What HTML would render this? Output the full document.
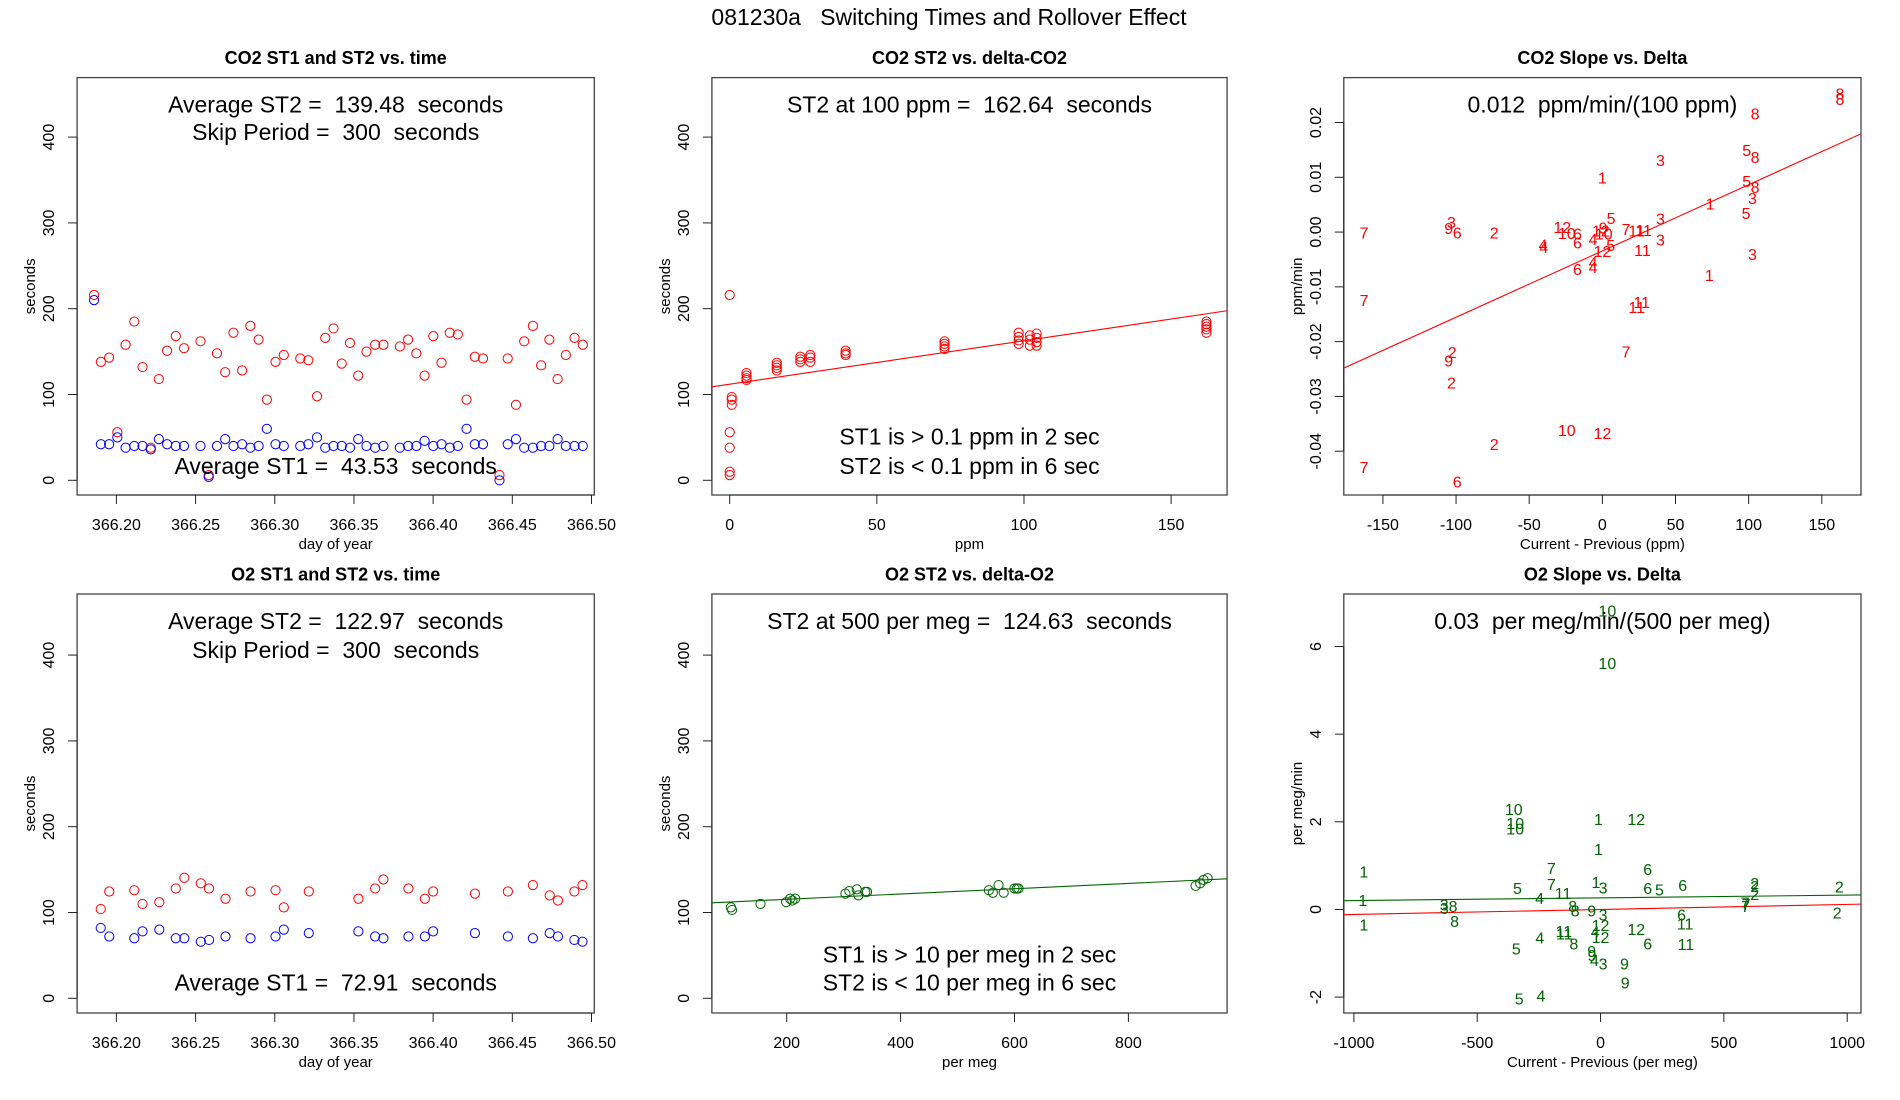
<!DOCTYPE html>
<html><head><meta charset="utf-8"><title>081230a Switching Times and Rollover Effect</title>
<style>
html,body{margin:0;padding:0;background:#fff;}
svg{display:block;font-family:"Liberation Sans",Arial,sans-serif;}
text{white-space:pre;}
</style></head>
<body>
<svg id="chart" width="1900" height="1100" viewBox="0 0 1900 1100" xmlns="http://www.w3.org/2000/svg">
<rect x="0" y="0" width="1900" height="1100" fill="#fff"/>
<text x="949" y="25" font-size="23" text-anchor="middle" xml:space="preserve">081230a   Switching Times and Rollover Effect</text>
</svg>
<script>
// ---- Panel 1: CO2 ST1/ST2 vs time ----
const co2Time = [366.1859,366.1902,366.1954,366.2006,366.2058,366.2113,366.2165,366.2217,366.2268,366.2320,366.2375,366.2427,366.2531,366.2583,366.2635,366.2687,366.2739,366.2794,366.2846,366.2898,366.2950,366.3005,366.3057,366.3161,366.3212,366.3267,366.3319,366.3371,366.3423,366.3475,366.3527,366.3579,366.3634,366.3686,366.3790,366.3842,366.3894,366.3946,366.4001,366.4053,366.4105,366.4156,366.4211,366.4263,366.4315,366.4419,366.4471,366.4523,366.4575,366.4630,366.4682,366.4734,366.4786,366.4838,366.4893,366.4945];
const co2ST2 = [216,138,143,56,158,185,132,38,118,151,168,154,162,6,148,126,172,128,180,164,94,138,146,142,140,98,166,177,136,160,122,150,158,158,156,164,148,122,168,137,172,170,94,144,142,6,142,88,162,180,134,164,118,146,166,158];
const co2ST1 = [210,42,42,50,38,40,40,36,48,42,40,40,40,4,40,48,40,42,38,40,60,42,40,40,42,50,38,40,40,38,48,40,38,40,38,40,40,46,40,42,38,40,60,42,42,0,42,48,38,38,40,40,48,40,40,40];
// ---- Panel 4: O2 ST1/ST2 vs time ----
const o2Time = [366.1901,366.1955,366.2113,366.2165,366.2271,366.2375,366.2429,366.2533,366.2585,366.2689,366.2847,366.3005,366.3057,366.3215,366.3528,366.3634,366.3686,366.3844,366.3948,366.4000,366.4264,366.4472,366.4630,366.4736,366.4788,366.4892,366.4943];
const o2ST2 = [104,124.5,126,110,112,128,140.5,134,128,116,124.5,126,106,124.5,116,128,138.5,128,116,124.5,122,124.5,132,120,114,124.5,132];
const o2ST1 = [82,72,70,78,80,70,70,66,68,72,70,72,80,76,78,72,70,72,72,78,76,72,70,76,72,68,66];
// ---- Panel 2: CO2 ST2 vs delta ----
const co2Delta = [0,0.7,0.7,0.7,0,0,0,0, 5.7,5.7,5.7,5.7, 16,16,16,16, 24,24,24, 27.4,27.4,27.4, 39.4,39.4,39.4, 73,73,73,73, 98.2,98.2,98.2,98.2, 102,102,102, 104.3,104.3,104.3,104.3, 162,162,162,162,162];
const co2DeltaST2 = [216,97,94,88,56,38,10,6, 125,122,119,117, 137,134,131,128, 144,141,138, 146,143,138, 151,148,146, 162,159,156,153, 172,167,163,159, 169,164,157, 171,166,161,157, 185,182,179,176,172];
const co2Fit = [112.0, 0.5064]; // intercept, slope
// ---- Panel 5: O2 ST2 vs delta ----
const o2Delta = [102,104,154,199,206,210,215,303,310,323,326,338,341,555,562,572,581,600,604,607,918,926,932,939];
const o2DeltaST2 = [106,103,110,112,116,114,116,122,125,127,120,124,124,126,123,132,123,128,128,128,131,134,138,140];
const o2Fit = [109.2, 0.03087];
// ---- Panel 3: CO2 slope vs delta ----
const co2SlopeDelta = [162.4,162.4,104.4,98.7,104.4,39.7,0,98.7,104.4,102.6,73.6,98.2,6,39.7,-103.1,-105,-99.2,-162.9,-73.9,-27.4,-24.3,-17,-1,1,0.5,16.2,23.5,28.2,-40.5,-40,-17,-6.3,5.7,39.7,0,27.4,102.6,-6.3,-6.3,-17,73.1,26.9,23.5,-162.9,16.2,-102.6,-105,-103.1,-24.3,0,-73.9,-162.9,-99.2];
const co2SlopeVal = [0.0253,0.0243,0.0216,0.0150,0.0137,0.0132,0.0100,0.0093,0.0082,0.0062,0.0052,0.0035,0.0026,0.0025,0.0018,0.0007,-0.0001,-0.0001,-0.0001,0.0009,-0.0002,-0.0003,0.0003,-0.0003,0.0008,0.0006,0.0003,0.0004,-0.0023,-0.0027,-0.0019,-0.0013,-0.0024,-0.0014,-0.0035,-0.0033,-0.0040,-0.0055,-0.0064,-0.0067,-0.0078,-0.0128,-0.0137,-0.0124,-0.0218,-0.0219,-0.0234,-0.0275,-0.0361,-0.0367,-0.0387,-0.0429,-0.0455];
const co2SlopeLabel = ["8","8","8","5","8","3","1","5","8","3","1","5","5","3","3","9","6","7","2","12","10","6","12","10","9","7","11","11","4","4","6","4","5","3","12","11","3","4","4","6","1","11","11","7","7","2","9","2","10","12","2","7","6"];
const co2SlopeFit = [-0.00345, 0.00012095];
// ---- Panel 6: O2 slope vs delta ----
const o2SlopeDelta = [27.5,27.5,-351.7,-346,-346,-8.7,144.7,-8.7,-959.5,-199.7,191,-199.7,-18.8,10,-337,-152,191,239,333,625,625,625,968,-964,-247,-634,-634,-597.7,586,590,588,-113,-103,-36,10,959.5,328.5,-592,-959.5,343,-149,-147,0,-21.7,0,144.7,-246,191,346,-108.5,-341.5,-36,-35,-24.6,10,97,100,-241.7,-330];
const o2SlopeVal = [6.82,5.62,2.29,1.97,1.85,2.06,2.06,1.38,0.87,0.95,0.92,0.58,0.63,0.5,0.49,0.37,0.49,0.46,0.56,0.6,0.53,0.35,0.52,0.21,0.26,0.11,0.03,0.08,0.16,0.12,0.08,0.08,-0.02,-0.02,-0.11,-0.07,-0.11,-0.26,-0.34,-0.32,-0.49,-0.55,-0.35,-0.5,-0.63,-0.45,-0.64,-0.78,-0.79,-0.78,-0.89,-0.95,-1.04,-1.15,-1.23,-1.23,-1.67,-1.96,-2.03];
const o2SlopeLabel = ["10","10","10","10","10","1","12","1","1","7","6","7","1","3","5","11","6","5","6","2","2","2","2","1","4","3","3","8","7","7","7","8","8","9","3","2","6","8","1","11","11","11","12","4","12","12","4","6","11","8","5","9","9","4","3","9","9","4","5"];
const o2SlopeFitGreen = [0.265, 0.000062];
const o2SlopeFitRed = [0.0, 0.000115];

const svg = document.getElementById('chart');
const NS = 'http://www.w3.org/2000/svg';
function mk(tag, attrs, parent) {
  const e = document.createElementNS(NS, tag);
  for (const k in attrs) e.setAttribute(k, attrs[k]);
  (parent || svg).appendChild(e);
  return e;
}
function lin(d0, d1, p0, p1) {
  const f = v => p0 + (v - d0) * (p1 - p0) / (d1 - d0);
  f.inv = p => d0 + (p - p0) * (d1 - d0) / (p1 - p0);
  return f;
}
const cols = [[77.1,594.3],[711.9,1227.1],[1343.8,1861]];
const rows = [[77.6,495],[594,1013]];
const TXT = '#000';

function panel(id, col, row, title, xs, ys, xTicks, yTicks, xTitle, yTitle, yFmt) {
  const L = cols[col][0], R = cols[col][1], T = rows[row][0], B = rows[row][1];
  const g = mk('g', {});
  
  
  const t = mk('text', {x:(L+R)/2, y: T - 13.5, 'font-size':18, 'font-weight':'bold', 'text-anchor':'middle', fill:TXT}, g);
  t.textContent = title;
  
  
  const box = mk('rect', {x:L, y:T, width:R-L, height:B-T, fill:'none', stroke:'#444', 'stroke-width':1.3}, g);
  
  
  const cp = mk('clipPath', {id: id + '-clip'}, g);
  mk('rect', {x:L, y:T, width:R-L, height:B-T}, cp);
  const xa = mk('g', {}, g);
  
  
  const xp = xTicks.map(xs);
  mk('line', {x1:xp[0], x2:xp[xp.length-1], y1:B, y2:B, stroke:'#222', 'stroke-width':1}, xa);
  xTicks.forEach((v, i) => {
    mk('line', {x1:xp[i], x2:xp[i], y1:B, y2:B+9, stroke:'#222', 'stroke-width':1}, xa);
    const lb = mk('text', {x:xp[i], y:B+35, 'font-size':16, 'text-anchor':'middle', fill:TXT}, xa);
    lb.textContent = String(v);
    
    
  });
  const xt = mk('text', {x:(L+R)/2, y:B+54, 'font-size':15, 'text-anchor':'middle', fill:TXT}, xa);
  xt.textContent = xTitle;
  
  
  const ya = mk('g', {}, g);
  
  
  const yp = yTicks.map(ys);
  mk('line', {x1:L, x2:L, y1:yp[0], y2:yp[yp.length-1], stroke:'#222', 'stroke-width':1}, ya);
  yTicks.forEach((v, i) => {
    mk('line', {x1:L-9, x2:L, y1:yp[i], y2:yp[i], stroke:'#222', 'stroke-width':1}, ya);
    const lx = L - 23;
    const lb = mk('text', {x:lx, y:yp[i], 'font-size':16, 'text-anchor':'middle', transform:`rotate(-90 ${lx} ${yp[i]})`, fill:TXT}, ya);
    lb.textContent = yFmt ? yFmt(v) : String(v);
    
    
  });
  const tx = L - 42, ty = (T+B)/2;
  const yt = mk('text', {x:tx, y:ty, 'font-size':15, 'text-anchor':'middle', transform:`rotate(-90 ${tx} ${ty})`, fill:TXT}, ya);
  yt.textContent = yTitle;
  
  
  const plot = mk('g', {'clip-path': `url(#${id}-clip)`}, g);
  
  
  return {g, plot, L, R, T, B, xs, ys};
}
function note(p, name, txt, y) {
  const t = mk('text', {x:(p.L+p.R)/2, y:y+8, 'font-size':23, 'text-anchor':'middle', fill:TXT}, p.g);
  t.setAttributeNS('http://www.w3.org/XML/1998/namespace', 'xml:space', 'preserve');
  t.textContent = txt;
  
  
}
function circles(p, xsArr, ysArr, color, name) {
  const grp = mk('g', {}, p.plot);
  
  
  xsArr.forEach((x, i) => {
    const c = mk('circle', {cx:p.xs(x), cy:p.ys(ysArr[i]), r:4.6, fill:'none', stroke:color, 'stroke-width':1}, grp);
    
    
  });
}
function labels(p, xsArr, ysArr, lbls, color, name) {
  const grp = mk('g', {}, p.plot);
  
  
  xsArr.forEach((x, i) => {
    const t = mk('text', {x:p.xs(x), y:p.ys(ysArr[i]) + 6, 'font-size':16, 'text-anchor':'middle', fill:color}, grp);
    t.textContent = lbls[i];
    
    
  });
}
function fitLine(p, fit, color, name) {
  const x0 = p.xs.inv(p.L), x1 = p.xs.inv(p.R);
  const l = mk('line', {x1:p.L, x2:p.R, y1:p.ys(fit[0]+fit[1]*x0), y2:p.ys(fit[0]+fit[1]*x1), stroke:color, 'stroke-width':1.1}, p.plot);
  
  
}

const secTicks = [0,100,200,300,400];
const timeTicks = ['366.20','366.25','366.30','366.35','366.40','366.45','366.50'];
const tScale = lin(366.20, 366.50, 116.4, 591.5);
const tScaleNum = v => tScale(parseFloat(v)); tScaleNum.inv = tScale.inv;

const yS1 = lin(0, 400, 480.3, 137.1);
const p1 = panel('co2-time', 0, 0, 'CO2 ST1 and ST2 vs. time', tScaleNum, yS1, timeTicks, secTicks, 'day of year', 'seconds');
circles(p1, co2Time, co2ST2, '#ff0000', 'co2-st2');
circles(p1, co2Time, co2ST1, '#0000ff', 'co2-st1');
note(p1, 'co2-average-st2-note', 'Average ST2 =  139.48  seconds', 104.3);
note(p1, 'co2-skip-period-note', 'Skip Period =  300  seconds', 132.2);
note(p1, 'co2-average-st1-note', 'Average ST1 =  43.53  seconds', 465.8);

const p2 = panel('co2-delta', 1, 0, 'CO2 ST2 vs. delta-CO2', lin(0,150,729.7,1171.1), yS1, [0,50,100,150], secTicks, 'ppm', 'seconds');
fitLine(p2, co2Fit, '#ff0000', 'co2-st2-fit-line');
circles(p2, co2Delta, co2DeltaST2, '#ff0000', 'co2-delta-st2');
note(p2, 'co2-st2-at-100-note', 'ST2 at 100 ppm =  162.64  seconds', 104.3);
note(p2, 'co2-st1-threshold-note', 'ST1 is > 0.1 ppm in 2 sec', 436.7);
note(p2, 'co2-st2-threshold-note', 'ST2 is < 0.1 ppm in 6 sec', 465.8);

const p3 = panel('co2-slope', 2, 0, 'CO2 Slope vs. Delta', lin(-150,150,1382.9,1821.8), lin(-0.04,0.02,451.2,122.5), [-150,-100,-50,0,50,100,150], [-0.04,-0.03,-0.02,-0.01,0,0.01,0.02], 'Current - Previous (ppm)', 'ppm/min', v => v.toFixed(2));
fitLine(p3, co2SlopeFit, '#ff0000', 'co2-slope-fit-line');
labels(p3, co2SlopeDelta, co2SlopeVal, co2SlopeLabel, '#ff0000', 'co2-slope');
note(p3, 'co2-slope-note', '0.012  ppm/min/(100 ppm)', 104.3);

const yS2 = lin(0, 400, 998.3, 655.1);
const p4 = panel('o2-time', 0, 1, 'O2 ST1 and ST2 vs. time', tScaleNum, yS2, timeTicks, secTicks, 'day of year', 'seconds');
circles(p4, o2Time, o2ST2, '#ff0000', 'o2-st2');
circles(p4, o2Time, o2ST1, '#0000ff', 'o2-st1');
note(p4, 'o2-average-st2-note', 'Average ST2 =  122.97  seconds', 621);
note(p4, 'o2-skip-period-note', 'Skip Period =  300  seconds', 650);
note(p4, 'o2-average-st1-note', 'Average ST1 =  72.91  seconds', 982.5);

const p5 = panel('o2-delta', 1, 1, 'O2 ST2 vs. delta-O2', lin(200,800,786.7,1128.4), yS2, [200,400,600,800], secTicks, 'per meg', 'seconds');
fitLine(p5, o2Fit, '#006400', 'o2-st2-fit-line');
circles(p5, o2Delta, o2DeltaST2, '#006400', 'o2-delta-st2');
note(p5, 'o2-st2-at-500-note', 'ST2 at 500 per meg =  124.63  seconds', 621);
note(p5, 'o2-st1-threshold-note', 'ST1 is > 10 per meg in 2 sec', 954.6);
note(p5, 'o2-st2-threshold-note', 'ST2 is < 10 per meg in 6 sec', 982.5);

const p6 = panel('o2-slope', 2, 1, 'O2 Slope vs. Delta', lin(-1000,1000,1353.9,1847.2), lin(-2,6,997.1,646.5), [-1000,-500,0,500,1000], [-2,0,2,4,6], 'Current - Previous (per meg)', 'per meg/min');
fitLine(p6, o2SlopeFitGreen, '#006400', 'o2-slope-fit-line');
fitLine(p6, o2SlopeFitRed, '#ff0000', 'o2-slope-reference-line');
labels(p6, o2SlopeDelta, o2SlopeVal, o2SlopeLabel, '#006400', 'o2-slope');
note(p6, 'o2-slope-note', '0.03  per meg/min/(500 per meg)', 621);
</script>
</body></html>
